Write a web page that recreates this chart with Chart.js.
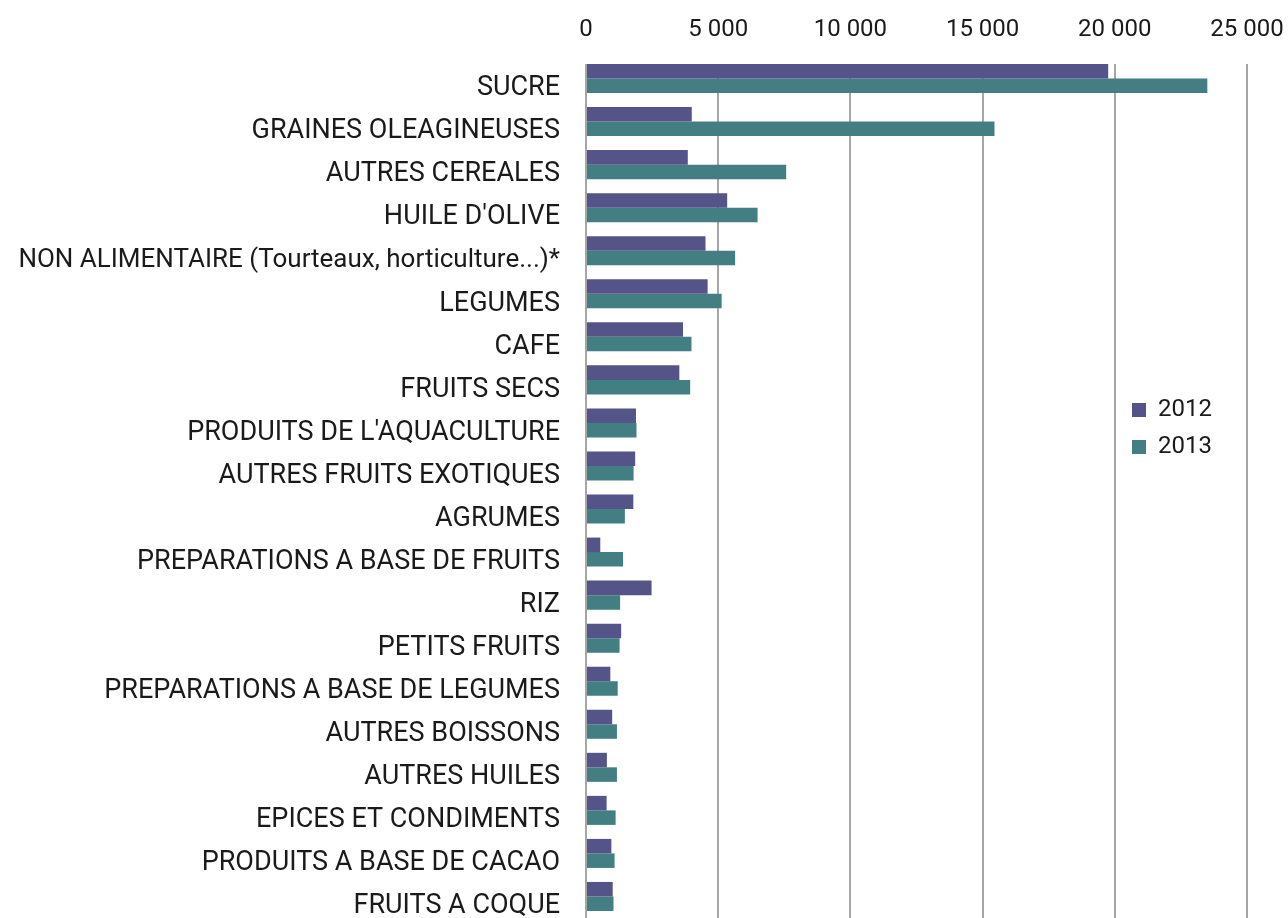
<!DOCTYPE html>
<html>
<head>
<meta charset="utf-8">
<script src="https://cdn.jsdelivr.net/npm/chart.js@4.4.1/dist/chart.umd.min.js"></script>
<style>
  html, body { margin: 0; padding: 0; background: #ffffff; }
  #wrap { width: 1288px; height: 918px; position: relative; }
</style>
</head>
<body>
<div id="wrap"><canvas id="c"></canvas></div>
<script>
const categories = [
  "SUCRE",
  "GRAINES OLEAGINEUSES",
  "AUTRES CEREALES",
  "HUILE D'OLIVE",
  "NON ALIMENTAIRE (Tourteaux, horticulture...)*",
  "LEGUMES",
  "CAFE",
  "FRUITS SECS",
  "PRODUITS DE L'AQUACULTURE",
  "AUTRES FRUITS EXOTIQUES",
  "AGRUMES",
  "PREPARATIONS A BASE DE FRUITS",
  "RIZ",
  "PETITS FRUITS",
  "PREPARATIONS A BASE DE LEGUMES",
  "AUTRES BOISSONS",
  "AUTRES HUILES",
  "EPICES ET CONDIMENTS",
  "PRODUITS A BASE DE CACAO",
  "FRUITS A COQUE"
];
const values2012 = [19750, 4000, 3850, 5340, 4520, 4600, 3670, 3530, 1890, 1860, 1790, 540, 2480, 1330, 920, 990, 790, 780, 960, 1010];
const values2013 = [23500, 15450, 7570, 6490, 5640, 5130, 3990, 3940, 1910, 1800, 1470, 1400, 1290, 1270, 1200, 1170, 1170, 1120, 1080, 1040];
const seriesNames = ["2012", "2013"];
const xTicks = [0, 5000, 10000, 15000, 20000, 25000];

const fmt = v => String(v).replace(/\B(?=(\d{3})+(?!\d))/g, ' ');

const legendPlace = {
  id: 'legendPlace',
  afterLayout(chart) {
    const lg = chart.legend;
    if (!lg) return;
    lg.left = 1119; lg.right = 1288;
    lg.top = 385; lg.bottom = 918;
  }
};
const gridTrim = {
  id: 'gridTrim',
  beforeDatasetsDraw(chart) {
    const a = chart.chartArea, ctx = chart.ctx;
    ctx.save();
    ctx.fillStyle = '#ffffff';
    ctx.fillRect(a.left - 3, a.top - 1, a.right - a.left + 6, 8);
    ctx.restore();
  }
};

new Chart(document.getElementById('c'), {
  type: 'bar',
  data: {
    labels: categories,
    datasets: [
      { label: seriesNames[0], data: values2012, backgroundColor: '#545488', borderWidth: 0 },
      { label: seriesNames[1], data: values2013, backgroundColor: '#427e82', borderWidth: 0 }
    ]
  },
  options: {
    indexAxis: 'y',
    responsive: true,
    maintainAspectRatio: false,
    animation: false,
    categoryPercentage: 0.674,
    barPercentage: 1.0,
    layout: { padding: { left: 0, right: 41, top: 0, bottom: 0 } },
    plugins: {
      tooltip: { enabled: false },
      legend: {
        position: 'chartArea',
        align: 'start',
        labels: {
          boxWidth: 14, boxHeight: 14, padding: 13,
          color: '#1a1a1a',
          font: { family: 'Roboto', size: 24 }
        }
      }
    },
    scales: {
      x: {
        position: 'top',
        min: 0, max: 25000,
        afterBuildTicks: s => { s.ticks = xTicks.map(v => ({ value: v })); },
        afterFit: s => { s.height = 57; s.paddingLeft = 0; s.paddingRight = 0; },
        grid: { color: '#a6a6a6', lineWidth: 2, drawTicks: false },
        border: { display: false },
        ticks: {
          padding: 13,
          color: '#1a1a1a',
          font: { family: 'Roboto', size: 24 },
          callback: v => fmt(v)
        }
      },
      y: {
        afterFit: s => { s.width = 586; s.paddingTop = 0; s.paddingBottom = 0; },
        grid: { display: false, drawTicks: false },
        border: { display: false },
        ticks: {
          padding: 26,
          labelOffset: 10,
          color: '#1a1a1a',
          autoSkip: false,
          font: c => ({ family: 'Roboto', size: c.index === 4 ? 26 : 27 })
        }
      }
    }
  },
  plugins: [legendPlace, gridTrim]
});
</script>
</body>
</html>
